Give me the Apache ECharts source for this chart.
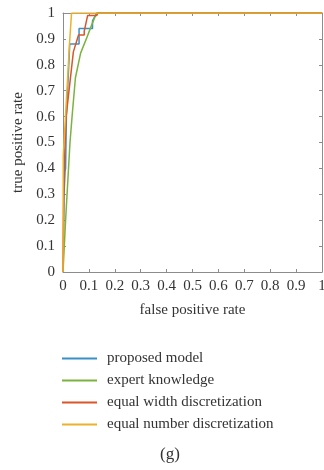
<!DOCTYPE html>
<html>
<head>
<meta charset="utf-8">
<script src="https://cdn.jsdelivr.net/npm/echarts@6/dist/echarts.min.js"></script>
<style>html,body{margin:0;padding:0;background:#fff;}#c{width:324px;height:470px;}</style>
</head>
<body>
<div id="c"></div>
<script>
const seriesNames = ['proposed model', 'expert knowledge', 'equal width discretization', 'equal number discretization'];
const proposedFpr = [0, 0.004, 0.008, 0.010, 0.013, 0.026, 0.062, 0.062, 0.114, 0.114, 0.12, 0.13, 1];
const proposedTpr = [0, 0.30, 0.39, 0.40, 0.60, 0.88, 0.88, 0.94, 0.94, 0.97, 0.975, 1, 1];
const expertFpr = [0, 0.010, 0.027, 0.035, 0.048, 0.068, 0.09, 0.113, 0.13, 1];
const expertTpr = [0, 0.20, 0.50, 0.60, 0.75, 0.845, 0.90, 0.96, 1, 1];
const widthFpr = [0, 0.003, 0.006, 0.012, 0.04, 0.06, 0.082, 0.082, 0.095, 0.13, 0.135, 1];
const widthTpr = [0, 0.30, 0.45, 0.60, 0.85, 0.915, 0.915, 0.93, 0.99, 0.99, 1, 1];
const numberFpr = [0, 0.001, 0.004, 0.025, 0.033, 1];
const numberTpr = [0, 0.45, 0.50, 0.88, 1, 1];
const xTicks = [0, 0.1, 0.2, 0.3, 0.4, 0.5, 0.6, 0.7, 0.8, 0.9, 1];
const yTicks = [0, 0.1, 0.2, 0.3, 0.4, 0.5, 0.6, 0.7, 0.8, 0.9, 1];
const colors = ['#3a8fc6', '#7bb240', '#d9562a', '#ecb22c'];

const pairs = (xs, ys) => xs.map((x, i) => [x, ys[i]]);
const allX = [proposedFpr, expertFpr, widthFpr, numberFpr];
const allY = [proposedTpr, expertTpr, widthTpr, numberTpr];

const font = 'Liberation Serif';
const axisCol = '#8c8c8c';
const fs = 15;
const chart = echarts.init(document.getElementById('c'), null, {renderer: 'canvas'});
const baseAxis = {
  type: 'value', min: 0, max: 1, interval: 0.1,
  axisLine: {show: true, onZero: false, lineStyle: {color: axisCol, width: 1}},
  axisTick: {show: true, inside: true, length: 3, lineStyle: {color: axisCol}},
  splitLine: {show: false}
};
const fmt = ticks => v => {
  const r = Math.round(v * 10) / 10;
  return ticks.includes(r) ? String(r) : '';
};
chart.setOption({
  animation: false,
  color: colors,
  grid: {left: 63, right: 2, top: 13, bottom: 198, containLabel: false, outerBoundsMode: 'none'},
  xAxis: [
    Object.assign({}, baseAxis, {
      position: 'bottom',
      axisLabel: {show: true, margin: 7, color: '#333', fontFamily: font, fontSize: fs,
        hideOverlap: false, formatter: fmt(xTicks)},
      name: 'false positive rate', nameLocation: 'middle', nameGap: 31,
      nameTextStyle: {color: '#333', fontFamily: font, fontSize: fs}
    }),
    Object.assign({}, baseAxis, {position: 'top', axisLabel: {show: false}})
  ],
  yAxis: [
    Object.assign({}, baseAxis, {
      position: 'left',
      axisLabel: {show: true, margin: 8, color: '#333', fontFamily: font, fontSize: fs,
        formatter: fmt(yTicks)},
      name: 'true positive rate', nameLocation: 'middle', nameGap: 36, nameRotate: 90,
      nameTextStyle: {color: '#333', fontFamily: font, fontSize: fs}
    }),
    Object.assign({}, baseAxis, {position: 'right', axisLabel: {show: false}})
  ],
  legend: {
    orient: 'vertical', left: 57, top: 346, itemWidth: 35, itemHeight: 2, itemGap: 7,
    icon: 'rect',
    textStyle: {color: '#333', fontFamily: font, fontSize: fs, padding: [0, 0, 0, 5]},
    data: seriesNames
  },
  graphic: [{
    type: 'text', x: 170, y: 455,
    style: {text: '(g)', font: '17px "Liberation Serif"', fill: '#333', textAlign: 'center', textVerticalAlign: 'middle'}
  }],
  series: seriesNames.map((n, i) => ({
    name: n, type: 'line', showSymbol: false, symbol: 'none',
    data: pairs(allX[i], allY[i]),
    lineStyle: {width: 1.5, color: colors[i]},
    itemStyle: {color: colors[i]},
    z: 2 + i
  }))
});
</script>
</body>
</html>
